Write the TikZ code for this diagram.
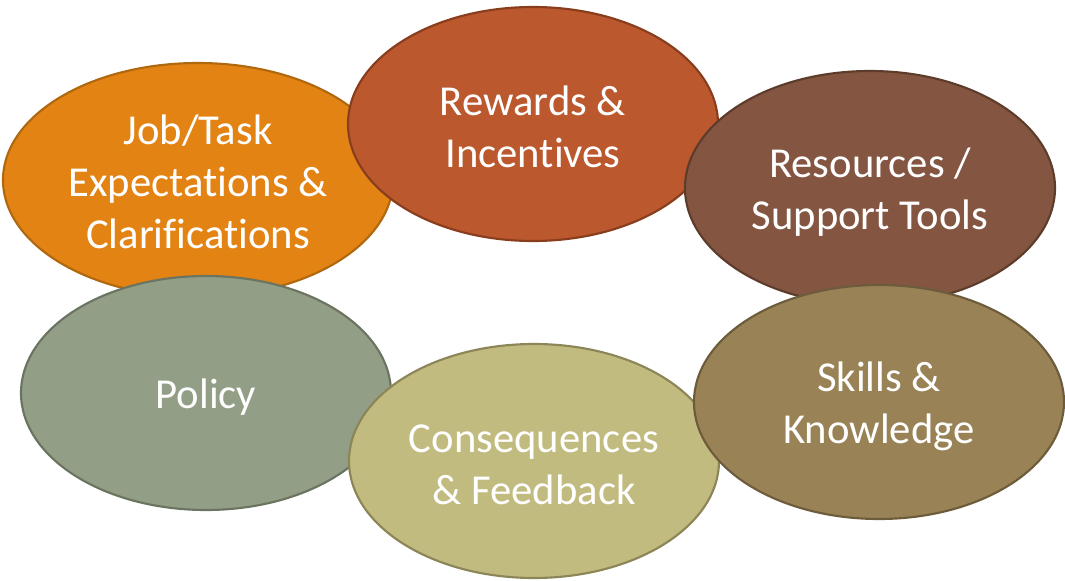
\documentclass[tikz,border=0pt]{standalone}
\usepackage{fontspec}
\setmainfont{Carlito}
\usepackage{xcolor}
\usepackage{tikz}
\usetikzlibrary{shapes.geometric}
\definecolor{jobfill}{HTML}{E38314}
\definecolor{jobline}{HTML}{B0680F}
\definecolor{rewfill}{HTML}{BB582D}
\definecolor{rewline}{HTML}{883D1D}
\definecolor{resfill}{HTML}{845642}
\definecolor{resline}{HTML}{5E3C2C}
\definecolor{polfill}{HTML}{929F86}
\definecolor{polline}{HTML}{6A7460}
\definecolor{confill}{HTML}{C2BB80}
\definecolor{conline}{HTML}{8B8557}
\definecolor{skifill}{HTML}{998255}
\definecolor{skiline}{HTML}{6D5C3B}
\newcommand\nolig{\kern0pt}
\tikzset{
  blob/.style={ellipse, draw, line width=1.6pt, inner sep=0pt,
    minimum width=277.5pt, minimum height=175.5pt, align=center,
    text=white, font=\fontsize{32}{39}\selectfont},
  textdrop/.style={execute at begin node={\rule{0pt}{#1}}}
}

\begin{document}
\begin{tikzpicture}[x=0.75pt, y=-0.75pt]
    \useasboundingbox (0,0) rectangle (1065,581);
    \node[blob, fill=jobfill, draw=jobline, minimum width=292.5pt, textdrop=103pt] (job) at (198,180)
      {Job/Task\\Expectat\nolig ions \&\\Clarif\nolig icat\nolig ions};
    \node[blob, fill=rewfill, draw=rewline, textdrop=65pt] (rewards) at (533,124)
      {Rewards \&\\Incent\nolig ives};
    \node[blob, fill=resfill, draw=resline, textdrop=67pt] (resources) at (870,188)
      {Resources /\\Support Tools};
    \node[blob, fill=polfill, draw=polline, textdrop=29pt] (policy) at (206,393)
      {Policy};
    \node[blob, fill=confill, draw=conline, textdrop=65pt] (conseq) at (534,461)
      {Consequences\\\& Feedback};
    \node[blob, fill=skifill, draw=skiline, textdrop=67pt] (skills) at (879,402)
      {Skills \&\\Knowledge};
  \end{tikzpicture}
\end{document}
